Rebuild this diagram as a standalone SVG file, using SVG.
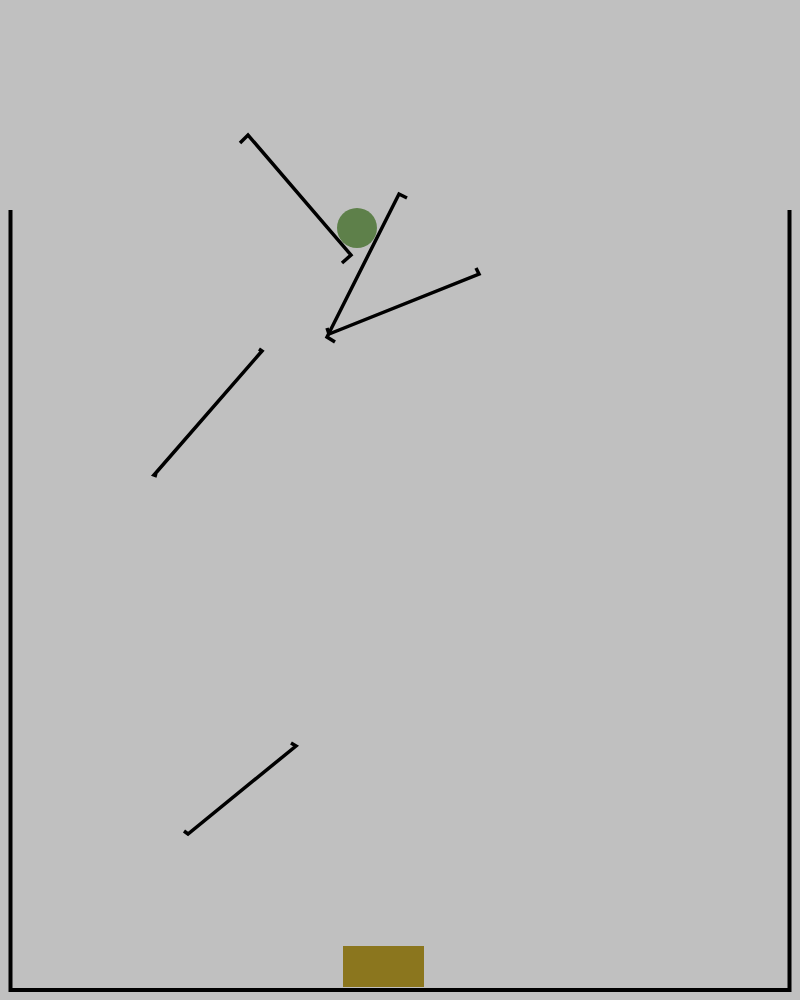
<svg xmlns="http://www.w3.org/2000/svg" width="800" height="1000" viewBox="0 0 800 1000">
<style>
.board{fill:none;stroke:#000;stroke-width:3.5;stroke-linejoin:miter}
.wall{fill:none;stroke:#000;stroke-width:4}
</style>
<rect width="800" height="1000" fill="#c0c0c0"/>
<g id="container">
<polyline class="wall" points="10.5,210 10.5,990 789.5,990 789.5,210"/>
</g>
<g id="boards">
<polyline id="board1" class="board" points="240,143 248,135 351,255 342,263"/>
<polyline id="board2" class="board" points="407,198 399,194 327,337 335,342"/>
<polyline id="board3" class="board" points="476,268 479,274 329,334 327,328"/>
<polyline id="board4" class="board" points="259,349 262,351 154,475 157,476"/>
<polyline id="board5" class="board" points="291,743 296,746 188,834 184,831"/>
</g>
<g id="ball"><circle cx="357" cy="228" r="20" fill="#5e804a"/></g>
<g id="goal"><rect x="343" y="946" width="81" height="41" fill="#8b761e"/></g>
</svg>
